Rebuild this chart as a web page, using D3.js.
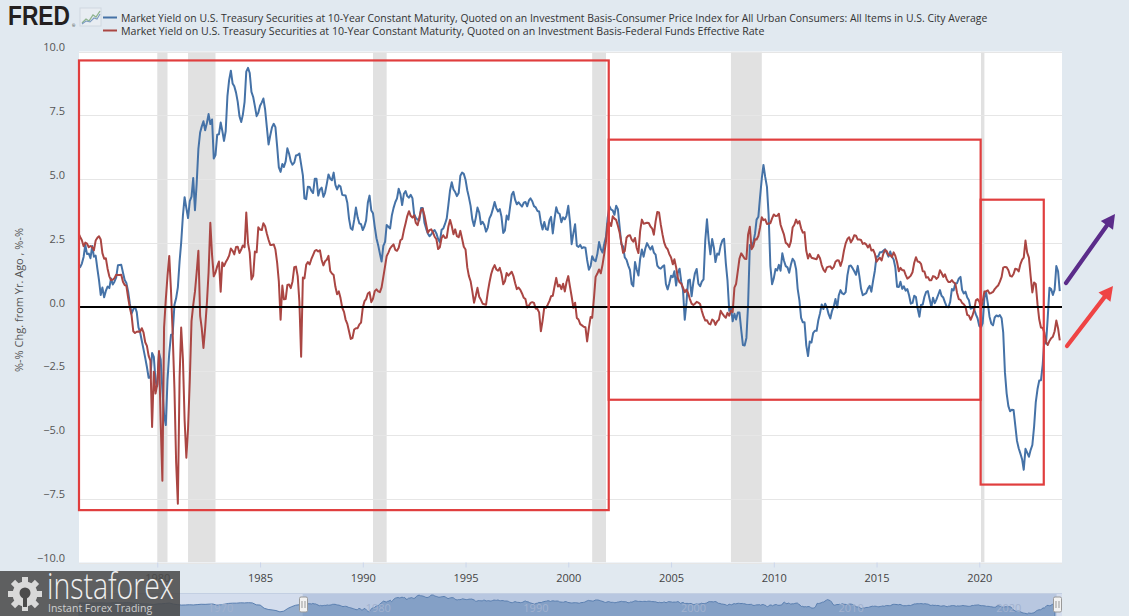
<!DOCTYPE html>
<html><head><meta charset="utf-8">
<script src="https://cdn.jsdelivr.net/npm/d3@7"></script>
<style>
html,body{margin:0;padding:0;background:#e1e9f0;overflow:hidden;}
svg{display:block;font-family:"Open Sans",sans-serif;}
</style></head><body>
<svg id="chart" width="1129" height="616"></svg>
<script>
// ---------- DATA ----------
const seriesNames = [
  "Market Yield on U.S. Treasury Securities at 10-Year Constant Maturity, Quoted on an Investment Basis-Consumer Price Index for All Urban Consumers: All Items in U.S. City Average",
  "Market Yield on U.S. Treasury Securities at 10-Year Constant Maturity, Quoted on an Investment Basis-Federal Funds Effective Rate"
];
const yTitle = "%-% Chg. from Yr. Ago , %-%";
const firstMonth = "1976-03";   // monthly observations from here
// 10Y minus CPI (YoY), monthly, Mar 1976 – Dec 2023
const blueValues = [
 1.63,1.56,1.70,1.96,2.43,2.07,2.09,1.91,2.39,1.97,
 2.01,1.49,1.06,0.47,0.76,0.38,0.63,0.80,0.74,1.12,0.88,0.99,
 1.16,1.63,1.64,1.65,1.35,1.06,0.94,0.61,0.12,-0.26,-0.09,0.01,
 -0.20,-0.80,-0.98,-1.32,-1.65,-1.99,-2.35,-2.77,-2.77,-1.80,-1.95,-2.91,
 -3.10,-1.79,-2.05,-3.23,-4.22,-4.62,-2.85,-1.80,-1.09,-1.05,0.08,0.34,
 0.77,1.79,2.52,3.58,4.30,3.87,3.48,4.14,4.32,5.05,3.79,4.82,
 6.19,6.83,7.06,7.27,6.92,7.20,7.55,7.16,7.34,5.81,5.95,6.74,
 6.76,7.22,6.91,6.50,6.88,8.25,8.88,9.25,8.75,8.64,8.39,8.03,
 7.47,7.24,7.52,8.03,9.21,9.36,9.16,8.42,8.22,7.86,7.47,7.60,
 7.88,8.01,8.16,7.73,7.05,6.36,6.71,7.03,7.17,7.04,6.28,5.46,
 5.29,5.60,5.48,5.70,6.21,6.00,5.70,5.57,5.65,5.93,5.95,6.01,
 5.58,5.15,4.25,4.22,4.71,4.70,4.55,4.46,5.02,5.02,4.36,4.59,
 4.67,4.31,4.47,4.82,5.19,5.02,4.96,5.26,4.78,4.60,4.76,4.71,
 4.39,4.37,4.36,4.08,3.46,3.08,3.02,3.41,3.89,3.51,3.27,3.24,
 3.01,3.17,3.39,4.09,4.36,3.78,3.67,3.15,2.69,2.42,2.09,1.78,
 2.39,2.55,3.21,3.14,3.07,3.58,3.87,4.10,4.25,4.63,4.42,3.99,
 4.43,4.54,4.34,4.28,4.39,4.26,3.64,3.49,3.42,3.39,3.87,3.87,
 3.30,3.06,2.88,2.77,2.84,2.96,3.01,2.88,2.66,2.53,3.02,3.07,
 3.25,3.47,3.98,4.57,4.88,4.60,4.50,4.34,4.46,5.14,5.26,5.21,
 4.98,4.57,4.30,3.96,3.43,3.17,3.48,3.89,3.70,3.24,3.33,3.21,
 2.95,3.11,3.47,3.61,3.84,4.11,3.87,3.74,3.83,3.53,2.90,3.00,
 3.58,3.42,3.89,4.39,4.51,4.19,4.02,4.10,4.01,3.93,4.08,4.11,
 3.94,4.17,4.25,4.14,3.95,3.90,3.76,3.74,3.31,3.03,3.33,3.05,
 3.02,3.40,3.53,2.88,3.44,3.90,3.69,3.64,3.32,3.51,3.43,3.58,
 3.96,3.32,2.46,2.89,3.24,2.40,2.35,2.43,2.30,2.34,2.32,1.84,
 1.46,1.60,1.99,1.84,1.79,2.08,2.54,2.27,2.13,2.47,2.75,3.49,
 3.94,3.81,3.78,3.61,3.96,3.83,3.15,2.46,2.37,1.94,1.85,1.63,
 1.45,0.90,0.81,1.76,1.47,1.23,1.88,2.25,1.97,2.29,2.50,2.37,
 2.25,2.38,2.13,2.05,1.62,1.53,1.50,1.58,1.63,0.90,0.69,0.93,
 1.22,1.17,1.40,0.84,1.34,1.50,0.98,0.66,-0.50,0.16,1.04,1.07,
 0.42,0.97,1.32,1.49,0.91,0.81,0.99,1.08,2.62,3.43,2.60,2.06,
 2.66,2.32,1.76,2.09,2.05,2.40,2.60,2.67,1.72,1.03,-0.15,0.00,
 -0.56,-0.26,-0.49,-0.22,-0.22,-0.90,-1.49,-1.51,-1.21,0.11,2.43,2.32,
 2.52,2.87,3.42,3.53,4.29,5.02,5.56,5.09,4.70,3.59,1.60,0.89,
 1.13,1.49,1.43,1.65,1.42,2.10,1.81,1.60,1.55,1.34,1.66,1.89,
 1.79,1.48,0.71,0.26,-0.43,-0.60,-0.60,-1.50,-1.92,-1.35,-1.39,-1.02,
 -0.93,-0.93,-0.53,-0.25,0.10,-0.08,0.13,-0.02,-0.28,-0.45,-0.15,0.02,
 0.31,-0.02,0.46,0.66,0.53,0.50,0.58,1.24,1.61,1.62,1.52,1.40,
 1.26,1.61,1.22,0.71,0.46,0.50,0.54,0.72,0.83,0.60,1.03,1.41,
 1.98,1.98,2.14,2.14,2.20,2.26,2.12,1.97,2.17,1.97,1.86,1.54,
 0.79,0.78,0.99,0.71,0.81,0.64,0.70,0.46,0.13,0.16,0.44,0.39,
 -0.07,-0.38,0.08,0.10,0.40,0.59,0.62,0.31,0.00,0.36,0.15,0.30,
 0.48,0.66,0.44,0.37,0.18,0.01,-0.01,0.19,0.70,0.65,0.92,0.93,
 1.11,1.18,0.67,0.53,0.60,0.37,0.26,-0.07,0.00,-0.09,-0.29,-0.44,
 -0.74,-0.80,-0.63,0.36,0.57,0.13,-0.38,-0.65,-0.72,-0.41,-0.33,-0.37,
 -0.32,-0.44,-0.99,-2.56,-3.38,-3.88,-4.08,-4.02,-4.03,-4.62,-5.24,-5.53,
 -5.74,-5.97,-6.37,-5.55,-5.70,-5.86,-5.60,-5.40,-4.68,-3.72,-3.21,-2.88,
 -2.87,-2.25,-1.34,-1.44,-0.43,0.75,0.70,0.47,0.68,1.60,1.40,0.62
];
// 10Y minus Fed Funds, monthly, Mar 1976 – Dec 2023
const redValues = [
 2.89,2.74,2.61,2.38,2.52,2.48,2.34,2.39,2.34,2.22,
 2.60,2.71,2.77,2.64,2.11,1.89,1.91,1.50,1.20,1.05,1.07,1.13,
 1.26,1.25,1.25,1.26,0.99,0.86,0.83,0.37,-0.03,-0.32,-0.95,-1.02,
 -0.97,-0.96,-0.97,-0.83,-0.99,-1.38,-1.52,-1.91,-2.10,-4.70,-2.53,-3.39,
 -3.02,-1.72,-4.44,-6.80,-0.80,0.31,1.22,2.00,0.64,-1.06,-3.17,-6.06,
 -7.70,-2.74,-0.80,-2.04,-4.42,-5.90,-4.76,-2.88,-0.55,0.07,0.60,1.35,
 2.20,-0.35,-0.82,-1.60,-0.83,0.15,1.36,3.30,2.03,1.20,1.35,1.59,
 1.78,0.60,1.74,1.60,1.75,1.87,2.01,2.29,2.20,2.06,2.35,2.36,
 2.11,2.25,2.41,2.34,3.70,2.50,2.13,1.08,1.22,2.17,2.14,3.12,
 3.03,3.01,3.28,3.16,2.88,2.63,2.43,2.43,2.45,2.25,1.73,0.99,
 -0.50,0.84,0.30,0.31,0.86,0.88,0.74,1.00,1.56,1.58,1.21,0.20,
 -1.95,1.15,1.12,1.65,1.76,1.67,1.87,2.03,2.20,2.23,2.17,2.22,
 1.84,1.63,1.79,1.85,2.00,1.41,1.31,1.25,0.79,0.50,0.61,0.35,
 -0.03,-0.19,-0.49,-0.66,-0.95,-1.25,-1.22,-0.88,-0.83,-0.83,-0.68,-0.61,
 -0.02,0.23,0.31,0.53,0.58,0.19,0.32,0.62,0.69,0.61,0.58,0.77,
 1.18,1.60,1.99,2.13,2.29,2.38,2.45,2.24,2.20,2.32,2.61,2.66,
 3.00,3.28,3.56,3.75,3.57,3.50,3.59,3.29,3.20,3.49,3.78,3.85,
 3.58,3.23,2.91,3.01,3.04,2.92,2.75,2.65,2.27,2.34,2.70,2.81,
 2.70,2.72,3.14,3.41,3.17,2.85,3.04,2.77,2.73,2.98,2.67,2.36,
 2.25,1.55,1.22,1.01,0.62,0.17,0.43,0.75,0.40,0.28,0.13,0.11,
 0.09,0.59,0.96,1.29,1.50,1.64,1.47,1.42,1.53,1.29,0.89,1.01,
 1.33,1.23,1.30,1.38,1.21,0.93,0.70,0.76,0.67,0.53,0.36,0.31,
 -0.02,0.06,0.16,0.19,0.16,-0.06,-0.08,-0.21,-0.95,-0.54,0.00,-0.03,
 0.09,0.24,0.42,0.44,0.80,1.14,0.80,0.87,0.70,0.91,0.61,0.98,
 1.21,0.79,0.41,-0.03,0.17,-0.43,-0.49,-0.67,-0.72,-0.77,-0.79,-1.35,
 -0.82,-0.39,-0.42,0.34,1.18,1.31,1.47,1.32,1.66,2.08,2.56,3.27,
 3.31,3.17,3.55,3.46,3.41,3.18,2.92,2.52,2.12,2.19,2.71,2.79,
 2.81,2.64,2.56,2.70,2.31,2.11,2.97,3.42,3.26,3.28,3.30,3.29,
 3.15,3.07,2.83,3.35,3.72,3.70,3.24,2.85,2.52,2.34,2.26,2.07,
 1.94,1.67,1.87,1.55,1.14,0.96,0.92,0.76,0.58,0.68,0.54,0.31,
 0.13,0.08,0.13,0.20,0.17,0.12,-0.15,-0.37,-0.53,-0.52,-0.65,-0.68,
 -0.49,-0.54,-0.70,-0.56,-0.50,-0.15,-0.26,-0.35,-0.42,-0.23,-0.34,-0.14,
 -0.20,0.76,0.90,1.40,1.90,2.10,2.00,1.89,1.88,2.84,3.14,2.26,
 2.37,2.65,2.64,2.78,3.11,3.51,3.40,3.43,3.25,3.27,3.28,3.47,
 3.62,3.56,3.57,3.65,3.22,3.02,2.83,2.51,2.46,2.35,2.57,3.11,
 3.22,3.42,3.27,3.36,3.08,2.91,2.93,2.20,1.90,2.08,1.93,1.91,
 1.89,1.87,2.04,1.91,1.64,1.46,1.37,1.55,1.58,1.59,1.49,1.56,
 1.77,1.83,1.82,1.61,1.82,2.21,2.49,2.66,2.73,2.53,2.64,2.81,
 2.79,2.64,2.64,2.62,2.47,2.50,2.45,2.33,2.44,2.21,2.24,2.09,
 1.77,1.87,1.93,1.82,2.08,2.23,2.19,2.03,2.03,1.95,2.14,2.00,
 1.75,1.40,1.53,1.44,1.44,1.26,1.11,1.16,1.23,1.36,1.73,1.95,
 1.78,1.76,1.69,1.40,1.39,1.15,1.17,1.05,1.05,1.21,1.19,1.10,
 1.17,1.44,1.33,1.18,1.28,1.09,0.98,0.98,1.05,0.96,0.92,0.56,
 0.31,0.28,0.16,0.11,0.01,-0.31,-0.34,-0.50,-0.34,-0.12,0.26,0.31,
 0.21,-0.08,0.22,0.61,0.62,0.65,0.53,0.55,0.59,0.70,0.78,0.84,
 0.99,1.18,1.54,1.57,1.56,1.44,1.22,1.19,1.29,1.50,1.48,1.39,
 1.68,1.85,1.93,2.60,2.13,1.93,1.22,0.57,0.96,0.90,0.11,-0.48,
 -0.80,-0.82,-0.99,-1.37,-1.49,-1.33,-1.22,-1.16,-0.95,-0.53,-0.83,-1.31
];
// Navigator (first series) before the visible window, quarterly 1962Q1 – 1975Q4
const navFirstQuarter = "1962-01";
const navEarlyValues = [
 2.9,2.7,2.7,2.6, 2.7,2.8,2.8,2.6, 2.8,3.0,2.9,2.8, 3.0,2.9,2.5,2.5,
 2.1,2.0,1.8,1.5, 2.0,2.1,2.4,2.7, 1.8,1.4,1.0,1.1, 1.3,1.1,1.4,1.7,
 1.6,1.8,1.9,0.9, 1.3,1.8,2.4,2.6, 2.6,2.9,2.8,3.0, 2.8,1.2,1.0,-1.6,
 -2.6,-3.0,-3.5,-4.6, -4.0,-1.8,-0.3,0.9
];
const recessions = [
 ["1980-01","1980-07"],["1981-07","1982-11"],["1990-07","1991-03"],
 ["2001-03","2001-11"],["2007-12","2009-06"],["2020-02","2020-04"]
];
const yTicks = [-10,-7.5,-5,-2.5,0,2.5,5,7.5,10];
const xTickYears = [1980,1985,1990,1995,2000,2005,2010,2015,2020];
const navTickYears = [1970,1980,1990,2000,2010,2020];
const viewStart = "1976-03-11", viewEnd = "2024-01-10";
const navStart = "1962-01-01", navEnd = "2024-05-15";

// ---------- SETUP ----------
const svg = d3.select("#chart");
const W = 1129, H = 616;
const plot = {l:79, r:1062, t:51.5, b:562.5};
const parseM = d3.timeParse("%Y-%m");
const parseD = d3.timeParse("%Y-%m-%d");
const months = d3.timeMonth.range(parseM(firstMonth), d3.timeMonth.offset(parseM(firstMonth), blueValues.length));
const blue = months.map((d,i)=>({date:d, value:blueValues[i]}));
const red = months.map((d,i)=>({date:d, value:redValues[i]}));

const x = d3.scaleTime().domain([parseD(viewStart), parseD(viewEnd)]).range([plot.l, plot.r]);
const y = d3.scaleLinear().domain([-10,10]).range([plot.b, plot.t]);

svg.append("rect").attr("width",W).attr("height",H).attr("fill","#e1e9f0");
svg.append("rect").attr("x",plot.l).attr("y",plot.t).attr("width",plot.r-plot.l).attr("height",plot.b-plot.t).attr("fill","#ffffff");

svg.append("defs").append("clipPath").attr("id","clip").append("rect")
  .attr("x",plot.l).attr("y",plot.t).attr("width",plot.r-plot.l).attr("height",plot.b-plot.t);

// recession bands
svg.append("g").attr("clip-path","url(#clip)").selectAll("rect").data(recessions).join("rect")
  .attr("x",d=>x(parseM(d[0]))).attr("width",d=>Math.max(2,x(parseM(d[1]))-x(parseM(d[0]))))
  .attr("y",plot.t).attr("height",plot.b-plot.t).attr("fill","#e1e1e1");

// gridlines
svg.append("g").selectAll("line").data(yTicks.filter(v=>v!==0)).join("line")
  .attr("x1",plot.l).attr("x2",plot.r).attr("y1",d=>Math.round(y(d))+0.5).attr("y2",d=>Math.round(y(d))+0.5)
  .attr("stroke","#e6e6e6").attr("stroke-width",1);

// y labels
svg.append("g").selectAll("text").data(yTicks).join("text")
  .attr("x",65).attr("y",d=>y(d)-0.5).attr("text-anchor","end")
  .attr("font-size",11).attr("fill","#555").text(d=>d3.format(".1f")(d));

// y title
svg.append("text").attr("transform","translate(23,300) rotate(-90)").attr("text-anchor","middle")
  .attr("font-size",11).attr("fill","#555").text(yTitle);

// x axis
const xAxis = d3.axisBottom(x).tickValues(xTickYears.map(yr=>new Date(yr,0,1))).tickFormat(d3.timeFormat("%Y")).tickSize(5).tickPadding(7);
const gx = svg.append("g").attr("transform",`translate(0,${plot.b})`).call(xAxis);
gx.select(".domain").remove();
gx.selectAll(".tick line").attr("stroke","#ccd6eb");
gx.selectAll(".tick text").attr("font-size",11).attr("fill","#444").attr("font-family","Open Sans, sans-serif");

// series
const line = d3.line().x(d=>x(d.date)).y(d=>y(d.value));
const gs = svg.append("g").attr("clip-path","url(#clip)");
gs.append("path").datum(blue).attr("d",line).attr("fill","none").attr("stroke","#4572a7").attr("stroke-width",2).attr("stroke-linejoin","round");
gs.append("path").datum(red).attr("d",line).attr("fill","none").attr("stroke","#aa4643").attr("stroke-width",2).attr("stroke-linejoin","round");

// zero line
svg.append("line").attr("x1",plot.l).attr("x2",plot.r).attr("y1",y(0)).attr("y2",y(0)).attr("stroke","#000").attr("stroke-width",2);

// ---------- NAVIGATOR ----------
const navTop = 593, navBot = 633;
const xn = d3.scaleTime().domain([parseD(navStart), parseD(navEnd)]).range([plot.l, plot.r]);
const navQuarters = d3.timeMonth.every(3).range(parseM(navFirstQuarter), parseM("1976-01"));
const navData = navQuarters.map((d,i)=>({date:d, value:navEarlyValues[i]})).concat(blue);
const yn = d3.scaleLinear().domain(d3.extent(navData,d=>d.value)).range([614, 595]);
svg.append("rect").attr("x",plot.l).attr("y",navTop).attr("width",plot.r-plot.l).attr("height",navBot-navTop).attr("fill","#d4dded");
const selL = xn(parseD(viewStart)), selR = xn(parseD(viewEnd));
svg.append("rect").attr("x",selL).attr("y",navTop).attr("width",selR-selL).attr("height",navBot-navTop).attr("fill","#b8c7e0");
const navArea = d3.area().x(d=>xn(d.date)).y0(navBot).y1(d=>yn(d.value));
svg.append("path").datum(navData).attr("d",navArea).attr("fill","#4572a7").attr("fill-opacity",0.45).attr("stroke","#5a7fb0").attr("stroke-width",1);
svg.append("line").attr("x1",plot.l).attr("x2",plot.r).attr("y1",navTop+0.5).attr("y2",navTop+0.5).attr("stroke","#c3cfe2");
svg.append("g").selectAll("text").data(navTickYears).join("text")
  .attr("x",d=>xn(new Date(d,0,1))+3).attr("y",612).attr("font-size",11).attr("fill","#a2b2cf").text(d=>d);
[selL, selR].forEach(hx=>{
  const g = svg.append("g").attr("transform",`translate(${Math.round(hx)+0.5},597)`);
  g.append("rect").attr("x",-4).attr("y",0).attr("width",8).attr("height",15).attr("rx",1.5).attr("fill","#f2f2f2").attr("stroke","#999");
  g.append("line").attr("x1",-1.5).attr("x2",-1.5).attr("y1",4).attr("y2",11).attr("stroke","#999");
  g.append("line").attr("x1",1.5).attr("x2",1.5).attr("y1",4).attr("y2",11).attr("stroke","#999");
});

// ---------- HEADER / LEGEND ----------
svg.append("text").attr("x",8).attr("y",25).attr("font-family","Liberation Sans, Arial, sans-serif").attr("font-weight","bold")
  .attr("font-size",27).attr("fill","#231f20").attr("textLength",62).attr("lengthAdjust","spacingAndGlyphs").text("FRED");
svg.append("text").attr("x",72).attr("y",27).attr("font-size",4).attr("fill","#231f20").text("®");
const ic = svg.append("g").attr("transform","translate(80,8)");
ic.append("rect").attr("width",21).attr("height",18).attr("fill","#e8edf2").attr("stroke","#d0d8e0");
ic.append("polyline").attr("points","2,15 6,11 9,13 13,7 16,9 20,3").attr("fill","none").attr("stroke","#8fb48f").attr("stroke-width",1.3);
ic.append("polyline").attr("points","2,16 6,13 10,14 14,10 17,11 20,6").attr("fill","none").attr("stroke","#7b9cc0").attr("stroke-width",1.1);

const legendColors = ["#4572a7","#aa4643"];
const legendWidths = [868, 644];
seriesNames.forEach((name,i)=>{
  const ly = 17.5 + i*13;
  svg.append("line").attr("x1",103).attr("x2",117).attr("y1",ly).attr("y2",ly).attr("stroke",legendColors[i]).attr("stroke-width",2);
  const t = svg.append("text").attr("x",121).attr("y",ly+4).attr("font-size",11).attr("fill","#333").text(name);
  const w = t.node().getComputedTextLength();
  t.attr("font-size", 11*legendWidths[i]/w);
});

// ---------- ANNOTATIONS ----------
const boxes = [
  {x0:"1976-03-11", x1:"2001-12-20", v0:9.65, v1:-7.95},
  {x0:"2001-12-20", x1:"2020-01-25", v0:6.55, v1:-3.63},
  {x0:"2020-01-25", x1:"2023-02-20", v0:4.2, v1:-6.95}
];
svg.append("g").selectAll("rect").data(boxes).join("rect")
  .attr("x",d=>x(parseD(d.x0))).attr("y",d=>y(d.v0))
  .attr("width",d=>x(parseD(d.x1))-x(parseD(d.x0))).attr("height",d=>y(d.v1)-y(d.v0))
  .attr("fill","none").attr("stroke","#e03e3e").attr("stroke-width",2.2);

function arrow(x1,y1,x2,y2,color){
  const ang = Math.atan2(y2-y1,x2-x1), L=14, Wd=7.5;
  const bx = x2-L*Math.cos(ang), by = y2-L*Math.sin(ang);
  svg.append("line").attr("x1",x1).attr("y1",y1).attr("x2",bx).attr("y2",by).attr("stroke",color).attr("stroke-width",4.2).attr("stroke-linecap","round");
  const px = -Math.sin(ang)*Wd, py = Math.cos(ang)*Wd;
  svg.append("polygon").attr("points",`${x2},${y2} ${bx+px},${by+py} ${bx-px},${by-py}`).attr("fill",color);
}
arrow(1066,283,1115,214,"#5b2c8a");
arrow(1067,346,1113,286,"#ef4444");

// ---------- WATERMARK ----------
const wm = svg.append("g");
wm.append("rect").attr("x",0).attr("y",571).attr("width",180).attr("height",45).attr("fill","#4b4b4b").attr("fill-opacity",0.88);
const gear = wm.append("g").attr("transform","translate(25,594)");
d3.range(8).forEach(k=>{
  gear.append("rect").attr("x",-3).attr("y",-17).attr("width",6).attr("height",7).attr("fill","#d9d9d9").attr("transform",`rotate(${k*45})`);
});
gear.append("circle").attr("r",12.5).attr("fill","#d9d9d9");
gear.append("circle").attr("r",5.5).attr("cy",-1).attr("fill","#4b4b4b");
gear.append("rect").attr("x",-2).attr("y",2).attr("width",4).attr("height",11).attr("fill","#4b4b4b");
wm.append("text").attr("x",47).attr("y",599).attr("font-size",36).attr("font-weight",300).attr("fill","#f0f0f0")
  .attr("textLength",127).attr("lengthAdjust","spacingAndGlyphs").text("instaforex");
wm.append("text").attr("x",48).attr("y",612).attr("font-size",10.5).attr("fill","#d0d0d0").text("Instant Forex Trading");
</script>
</body></html>
